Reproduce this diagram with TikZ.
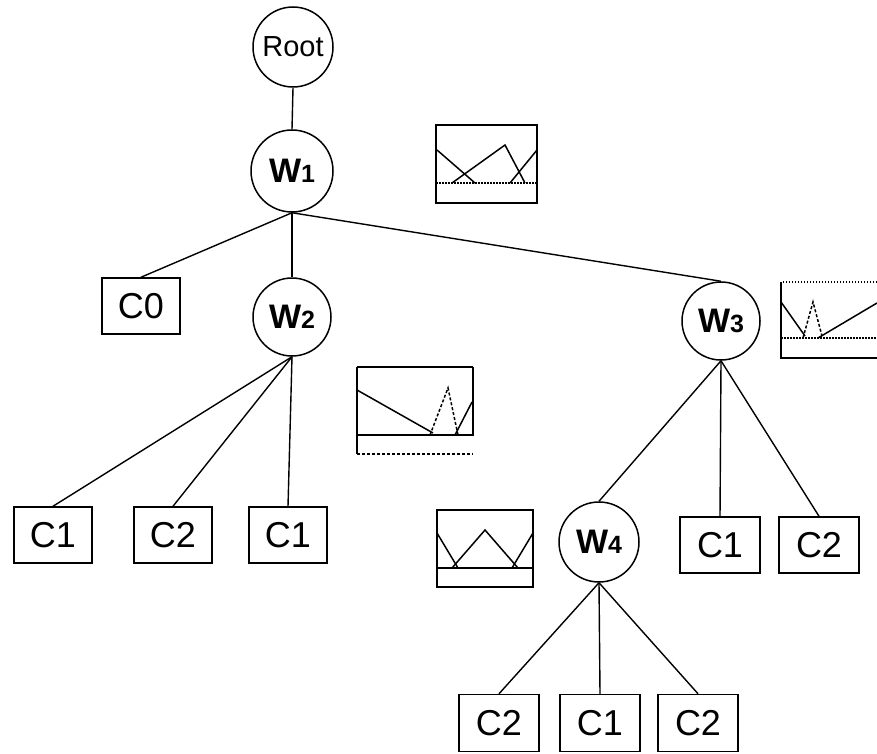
\documentclass[tikz,border=0pt]{standalone}
\usepackage{fontspec}
\setmainfont{Liberation Sans}
\begin{document}
\begin{tikzpicture}[x=1pt,y=-1pt,
  edge/.style={line width=1.4pt},
  wnode/.style={circle,draw,line width=1.5pt,inner sep=0pt,font=\fontsize{34}{34}\selectfont\bfseries},
  cbox/.style={rectangle,draw,line width=1.5pt,inner sep=0pt,minimum width=78pt,minimum height=56pt,font=\fontsize{36}{36}\selectfont},
  mf/.style={line width=1.5pt},
  mfd/.style={line width=1.5pt,dash pattern=on 3pt off 2pt},
  mfdot/.style={line width=1.5pt,dash pattern=on 1.5pt off 1.5pt}]
\useasboundingbox (0,0) rectangle (877,754);
% nodes
\node[wnode,minimum size=80pt,font=\fontsize{29}{29}\selectfont] (root) at (293,47) {Root};
\node[wnode,minimum size=82pt] (w1) at (292,171) {W{\fontsize{25}{25}\selectfont 1}};
\node[wnode,minimum size=78pt] (w2) at (292,317) {W{\fontsize{25}{25}\selectfont 2}};
\node[wnode,minimum size=78pt] (w3) at (721,321) {W{\fontsize{25}{25}\selectfont 3}};
\node[wnode,minimum size=80pt] (w4) at (599,542) {W{\fontsize{25}{25}\selectfont 4}};
\node[cbox] (c0) at (141,306) {C0};
\node[cbox] (c1a) at (53,535) {C1};
\node[cbox] (c2a) at (173,535) {C2};
\node[cbox] (c1b) at (288,535) {C1};
\node[cbox,minimum width=80pt] (c1c) at (720,545) {C1};
\node[cbox,minimum width=80pt] (c2c) at (819,545) {C2};
\node[cbox,minimum width=80pt,minimum height=57pt] (c2d) at (499,723) {C2};
\node[cbox,minimum width=80pt,minimum height=57pt] (c1d) at (600,723) {C1};
\node[cbox,minimum width=80pt,minimum height=57pt] (c2e) at (698,723) {C2};
% edges
\draw[edge] (root.south) -- (w1.north);
\draw[edge] (w1.south) -- (c0.north);
\draw[edge] (w1.south) -- (w2.north);
\draw[edge] (w1.south) -- (w3.north);
\draw[edge] (w2.south) -- (c1a.north);
\draw[edge] (w2.south) -- (c2a.north);
\draw[edge] (w2.south) -- (c1b.north);
\draw[edge] (w3.south) -- (w4.north);
\draw[edge] (w3.south) -- (c1c.north);
\draw[edge] (w3.south) -- (c2c.north);
\draw[edge] (w4.south) -- (c2d.north);
\draw[edge] (w4.south) -- (c1d.north);
\draw[edge] (w4.south) -- (c2e.north);
% membership function box 1 (W1)
\draw[mf] (436,125) rectangle (537,203);
\draw[mfdot] (436,183) -- (537,183);
\draw[mf] (437,150) -- (475,183);
\draw[mf] (452,183) -- (505,145) -- (525,183);
\draw[mf] (510,183) -- (537,150);
% membership function box 2 (W3)
\draw[mfdot] (877,282) -- (781,282);
\draw[mf] (781,282) -- (781,358) -- (877,358);
\draw[mfdot] (781,338) -- (877,338);
\draw[mf] (781,302) -- (805,336);
\draw[mfd] (803,338) -- (813,302) -- (822,336);
\draw[mf] (818,338) -- (877,303);
% membership function box 3 (W2)
\draw[mf] (357,367) -- (473,367);
\draw[mf] (357,367) -- (357,454);
\draw[mf] (473,367) -- (473,436);
\draw[mf] (357,435) -- (473,435);
\draw[mfd] (357,454) -- (473,454);
\draw[mf] (357,390) -- (433,433);
\draw[mfd] (430,435) -- (448,388) -- (458,435);
\draw[mf] (455,435) -- (472,402);
% membership function box 4 (W4)
\draw[mf] (437,510) rectangle (533,587);
\draw[mf] (437,568) -- (533,568);
\draw[mf] (437,533) -- (458,568);
\draw[mf] (452,568) -- (485,530) -- (518,568);
\draw[mf] (512,568) -- (533,533);
\end{tikzpicture}
\end{document}
